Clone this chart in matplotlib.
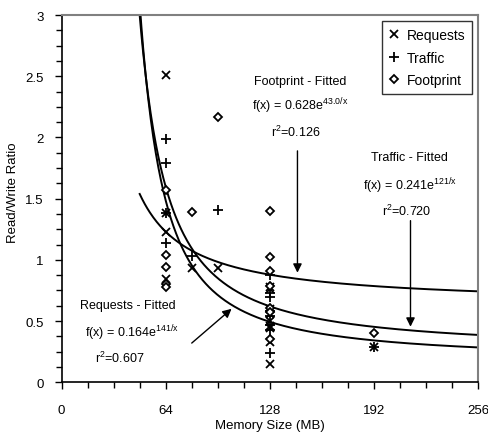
import numpy as np
import matplotlib
matplotlib.use("Agg")
import matplotlib.pyplot as plt
from matplotlib.ticker import MultipleLocator

# measured read/write ratios per memory size (MB)
REQ_X = [64, 64, 64, 64, 80, 96,
         128, 128, 128, 128, 128, 128, 128, 128, 128, 192]
REQ_Y = [2.51, 1.38, 1.23, 0.84, 0.93, 0.93,
         0.78, 0.76, 0.60, 0.56, 0.50, 0.46, 0.44, 0.33, 0.15, 0.29]

TRF_X = [64, 64, 64, 64, 80, 96,
         128, 128, 128, 128, 128, 128, 128, 128, 192]
TRF_Y = [1.99, 1.79, 1.38, 1.14, 1.03, 1.41,
         0.88, 0.73, 0.70, 0.58, 0.54, 0.47, 0.43, 0.24, 0.29]

FP_X = [64, 64, 64, 64, 64, 80, 96,
        128, 128, 128, 128, 128, 128, 128, 192]
FP_Y = [1.57, 1.04, 0.94, 0.80, 0.78, 1.39, 2.17,
        1.40, 1.02, 0.91, 0.79, 0.61, 0.57, 0.35, 0.40]

# exponential fits f(x) = a * exp(b / x)
FIT_REQ = (0.164, 141.0)
FIT_TRF = (0.241, 121.0)
FIT_FP = (0.628, 43.0)

plt.rcParams.update({
    "font.family": ["Liberation Sans", "DejaVu Sans"],
    "font.size": 9.5,
    "mathtext.fontset": "custom",
    "mathtext.rm": "Liberation Sans",
    "mathtext.it": "Liberation Sans:italic",
})


def fit(ab, x):
    return ab[0] * np.exp(ab[1] / x)


fig = plt.figure(figsize=(4.89, 4.39), dpi=100)
ax = fig.add_axes([0.126, 0.127, 0.8515, 0.8365])

xs = np.linspace(48, 256, 400)
for ab in (FIT_REQ, FIT_TRF, FIT_FP):
    ax.plot(xs, fit(ab, xs), color="black", lw=1.4, zorder=2)

ax.plot(REQ_X, REQ_Y, ls="none", marker="x", ms=5.5, mew=1.3,
        color="black", label="Requests", zorder=3)
ax.plot(TRF_X, TRF_Y, ls="none", marker="+", ms=7, mew=1.3,
        color="black", label="Traffic", zorder=3)
ax.plot(FP_X, FP_Y, ls="none", marker="D", ms=4, mew=1.3, mfc="white",
        mec="black", label="Footprint", zorder=3)

arrow = dict(arrowstyle="-|>", color="black", lw=1, mutation_scale=13,
             shrinkA=0, shrinkB=0)
fs = 9

# Footprint fit label
ax.text(146.5, 2.46, "Footprint - Fitted", ha="center", va="center", fontsize=fs)
ax.text(146.5, 2.26, r"f(x) = 0.628e$^{\mathrm{43.0/x}}$", ha="center",
        va="center", fontsize=fs)
ax.text(144, 2.05, r"r$^{\mathrm{2}}$=0.126", ha="center", va="center", fontsize=fs)
ax.annotate("", xy=(145, fit(FIT_FP, 145) + 0.05), xytext=(145, 1.89),
            arrowprops=arrow)

# Traffic fit label
ax.text(214, 1.84, "Traffic - Fitted", ha="center", va="center", fontsize=fs)
ax.text(214, 1.61, r"f(x) = 0.241e$^{\mathrm{121/x}}$", ha="center",
        va="center", fontsize=fs)
ax.text(212, 1.40, r"r$^{\mathrm{2}}$=0.720", ha="center", va="center", fontsize=fs)
ax.annotate("", xy=(214.5, fit(FIT_TRF, 214.5) + 0.03), xytext=(214.5, 1.32),
            arrowprops=arrow)

# Requests fit label
ax.text(40.7, 0.63, "Requests - Fitted", ha="center", va="center", fontsize=fs)
ax.text(43, 0.41, r"f(x) = 0.164e$^{\mathrm{141/x}}$", ha="center",
        va="center", fontsize=fs)
ax.text(36, 0.20, r"r$^{\mathrm{2}}$=0.607", ha="center", va="center", fontsize=fs)
ax.annotate("", xy=(104.5, 0.60), xytext=(80, 0.32), arrowprops=arrow)

ax.set_xlim(0, 256)
ax.set_ylim(0, 3)
ax.set_xticks([0, 64, 128, 192, 256])
ax.set_yticks([0, 0.5, 1, 1.5, 2, 2.5, 3])
ax.set_yticklabels(["0", "0.5", "1", "1.5", "2", "2.5", "3"])
ax.xaxis.set_minor_locator(MultipleLocator(16))
ax.yaxis.set_minor_locator(MultipleLocator(0.125))
ax.tick_params(which="major", length=5, width=1, direction="out")
ax.tick_params(which="minor", length=4, width=1, direction="out")
ax.tick_params(axis="x", which="major", pad=11)
ax.tick_params(axis="y", which="major", pad=8)
ax.tick_params(top=False, right=False, which="both")

for side in ("left", "bottom"):
    ax.spines[side].set_color("black")
    ax.spines[side].set_linewidth(1.2)
for side in ("top", "right"):
    ax.spines[side].set_color("#808080")
    ax.spines[side].set_linewidth(1.5)

ax.set_xlabel("Memory Size (MB)", labelpad=2)
ax.set_ylabel("Read/Write Ratio")
ax.yaxis.set_label_coords(-0.103, 0.518)

leg = ax.legend(loc="upper right", bbox_to_anchor=(0.986, 0.983),
                frameon=True, fancybox=False, handlelength=0.8,
                handletextpad=0.5, borderpad=0.5, labelspacing=0.6,
                borderaxespad=0, fontsize=10)
leg.get_frame().set_edgecolor("black")
leg.get_frame().set_linewidth(1)

fig.savefig("out.png", dpi=100)
